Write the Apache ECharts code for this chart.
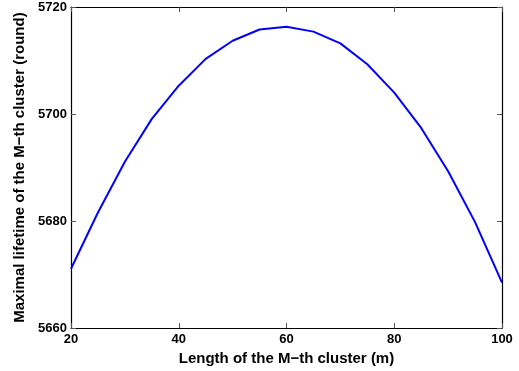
<!DOCTYPE html>
<html>
<head>
  <meta charset="utf-8">
  <title>Maximal lifetime</title>
  <script src="https://cdn.jsdelivr.net/npm/echarts@6/dist/echarts.min.js"></script>
  <style>
    html, body { margin: 0; padding: 0; background: #fff; }
    #chart { width: 519px; height: 371px; }
  </style>
</head>
<body>
<div id="chart"></div>
<script>
  // cluster length (m) and maximal lifetime (round)
  var lengths = [20, 25, 30, 35, 40, 45, 50, 55, 60, 65, 70, 75, 80, 85, 90, 95, 100];
  var lifetimes = [5671.1, 5681.6, 5691.1, 5699.1, 5705.3, 5710.3, 5713.7, 5715.8, 5716.3,
                   5715.4, 5713.2, 5709.3, 5704.0, 5697.4, 5689.3, 5679.8, 5668.5];
  var xTicks = [20, 40, 60, 80, 100];
  var yTicks = [5660, 5680, 5700, 5720];

  var chart = echarts.init(document.getElementById('chart'));
  var font = 'Liberation Sans, Arial, Helvetica, sans-serif';

  var points = [];
  for (var i = 0; i < lengths.length; i++) {
    points.push([lengths[i], lifetimes[i]]);
  }

  var lineStyle = { color: '#000', width: 1.2 };
  var tickStyle = { show: true, inside: true, length: 5, lineStyle: { color: '#555', width: 1 } };
  var plain = function (v) { return String(v); };

  var option = {
    animation: false,
    grid: { left: 71, right: 17, top: 7, bottom: 42 },
    xAxis: [{
      type: 'value',
      min: xTicks[0],
      max: xTicks[xTicks.length - 1],
      interval: 20,
      position: 'bottom',
      name: 'Length of the M\u2212th cluster (m)',
      nameLocation: 'middle',
      nameGap: 21,
      nameTextStyle: { color: '#000', fontWeight: 'bold', fontSize: 15, fontFamily: font },
      axisLine: { lineStyle: lineStyle },
      axisTick: tickStyle,
      splitLine: { show: false },
      axisLabel: { color: '#000', fontWeight: 'bold', fontSize: 13, fontFamily: font, margin: 5, formatter: plain }
    }, {
      type: 'value',
      min: xTicks[0],
      max: xTicks[xTicks.length - 1],
      interval: 20,
      position: 'top',
      axisLine: { lineStyle: lineStyle },
      axisTick: tickStyle,
      splitLine: { show: false },
      axisLabel: { show: false }
    }],
    yAxis: [{
      type: 'value',
      min: yTicks[0],
      max: yTicks[yTicks.length - 1],
      interval: 20,
      position: 'left',
      name: 'Maximal lifetime of the M\u2212th cluster (round)',
      nameLocation: 'middle',
      nameGap: 40,
      nameTextStyle: { color: '#000', fontWeight: 'bold', fontSize: 15, fontFamily: font },
      axisLine: { show: true, lineStyle: lineStyle },
      axisTick: tickStyle,
      splitLine: { show: false },
      axisLabel: { color: '#000', fontWeight: 'bold', fontSize: 13, fontFamily: font, margin: 4, formatter: plain }
    }, {
      type: 'value',
      min: yTicks[0],
      max: yTicks[yTicks.length - 1],
      interval: 20,
      position: 'right',
      axisLine: { show: true, lineStyle: lineStyle },
      axisTick: tickStyle,
      splitLine: { show: false },
      axisLabel: { show: false }
    }],
    series: [{
      type: 'line',
      data: points,
      showSymbol: false,
      symbol: 'none',
      lineStyle: { color: '#0000ff', width: 2 }
    }]
  };

  chart.setOption(option);
  window.onresize = function () { chart.resize(); };
</script>
</body>
</html>
